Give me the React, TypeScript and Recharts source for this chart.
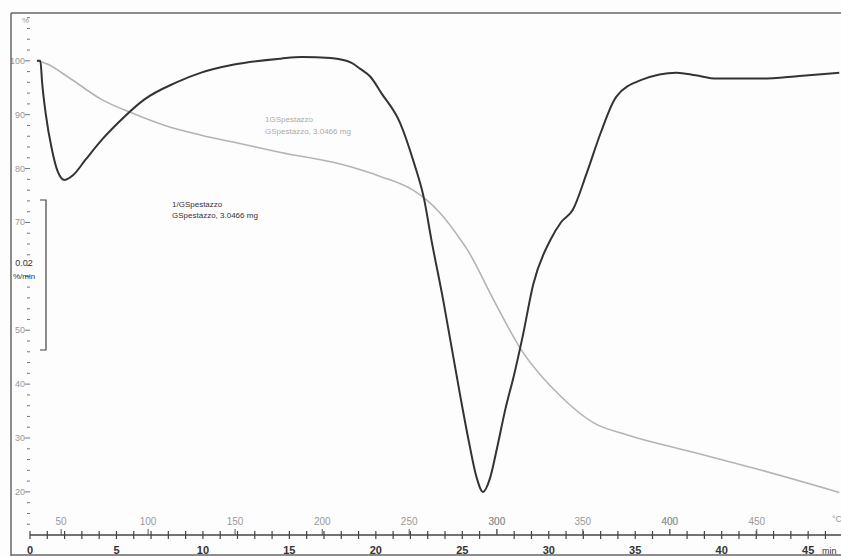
import { LineChart, Line, XAxis, YAxis } from 'recharts';

// TG curve (grey), mass %, vs time in min
const tgTime = [0.4, 1.0, 2.2, 4.15, 5.9, 7.8, 9.9, 12.2, 14.5, 18.0, 20.3, 22.2, 23.0, 23.7, 24.9, 25.3, 26.8, 28.4, 30.7, 32.6, 34.5, 38.3, 42.2, 46.8];
const tgMass = [100, 99.4, 97.0, 92.8, 90.3, 88.0, 86.2, 84.6, 83.0, 80.8, 78.5, 75.9, 74.0, 71.8, 66.8, 64.9, 55.7, 46.4, 37.7, 32.8, 30.6, 27.4, 24.1, 19.9];

// DTG curve (black), read on the same vertical scale
const dtgTime = [0.4, 0.6, 0.7, 0.9, 1.27, 1.6, 2.0, 2.5, 3.2, 4.2, 5.1, 6.6, 8.4, 9.9, 11.8, 14.5, 15.7, 17.4, 18.6, 19.1, 19.7, 20.3, 21.4, 22.2, 22.8, 23.2, 23.9, 24.4, 24.9, 25.4, 25.8, 26.2, 26.6, 27.0, 27.5, 28.0, 28.5, 29.1, 30.1, 30.7, 31.4, 32.2, 33.0, 33.9, 35.4, 37.4, 38.5, 39.7, 42.2, 44.5, 46.8];
const dtgRate = [100, 100, 96.0, 90.4, 83.5, 79.5, 77.9, 78.8, 81.6, 85.5, 88.5, 92.8, 95.9, 97.8, 99.3, 100.4, 100.7, 100.5, 99.6, 98.5, 97.0, 94.1, 88.5, 81.1, 74.2, 67.0, 55.5, 46.5, 37.5, 29.0, 23.0, 20.0, 22.5, 28.0, 35.5, 41.8, 49.0, 58.5, 66.8, 70.0, 72.4, 79.2, 86.6, 93.3, 96.5, 97.8, 97.3, 96.7, 96.7, 97.2, 97.8];

const minuteTicks = Array.from({ length: 47 }, (_, i) => i);
const tempLabels = [50, 100, 150, 200, 250, 300, 350, 400, 450];
const tempTimes = [1.8, 6.83, 11.86, 16.9, 21.93, 27.0, 31.97, 37.0, 42.03];
const yLabels = [20, 30, 40, 50, 70, 80, 90, 100];
const yTicks = Array.from({ length: 48 }, (_, i) => 14 + i * 2);

const tgData = tgTime.map((t, i) => ({ t, mass: tgMass[i] }));
const dtgData = dtgTime.map((t, i) => ({ t, rate: dtgRate[i] }));

const W = 841;
const H = 556;
const AXIS_X = 30;
const font = '"Liberation Sans", Arial, sans-serif';

function XTick(props: any) {
  const { x, y, payload } = props;
  const v = payload.value as number;
  const ti = tempTimes.indexOf(v);
  if (ti >= 0) {
    return (
      <g>
        <line x1={x} x2={x} y1={y - 6} y2={y} stroke="#555" strokeWidth={1} />
        <text x={x} y={y - 10} textAnchor="middle" fontSize={10} fill="#999" fontFamily={font}>
          {tempLabels[ti]}
        </text>
      </g>
    );
  }
  return (
    <g>
      <line x1={x} x2={x} y1={y - 4} y2={y + 4} stroke="#444" strokeWidth={1.2} />
      {v % 5 === 0 && (
        <text x={x} y={y + 19} textAnchor="middle" fontSize={11} fill="#333" fontFamily={font} fontWeight="bold">
          {v}
        </text>
      )}
    </g>
  );
}

function YTick(props: any) {
  const { y, payload } = props;
  const v = payload.value as number;
  const major = v % 10 === 0;
  return (
    <g>
      <line x1={AXIS_X} x2={AXIS_X - (major ? 5 : 3)} y1={y} y2={y} stroke="#777" strokeWidth={1} />
      {yLabels.includes(v) && (
        <text x={AXIS_X - 5} y={y + 3} textAnchor="end" fontSize={9} fill="#999" fontFamily={font}>
          {v}
        </text>
      )}
    </g>
  );
}

export default function App() {
  return (
    <div style={{ position: 'fixed', left: 0, top: 0, width: W, height: H, background: '#fdfdfd', overflow: 'hidden' }}>
      <LineChart width={W} height={H} data={tgData} margin={{ top: 15, right: 0, bottom: 0, left: 0 }}>
        <XAxis
          dataKey="t"
          type="number"
          domain={[0, 46.9]}
          ticks={[...minuteTicks, ...tempTimes]}
          interval={0}
          height={21}
          tickSize={0}
          tickMargin={0}
          tick={<XTick />}
          axisLine={{ stroke: '#444', strokeWidth: 1.5 }}
          allowDataOverflow
        />
        <YAxis
          yAxisId="tg"
          type="number"
          domain={[12, 108.5]}
          ticks={yTicks}
          interval={0}
          width={AXIS_X}
          tickSize={0}
          tickMargin={0}
          tick={<YTick />}
          axisLine={{ stroke: '#666', strokeWidth: 1.2 }}
          allowDataOverflow
        />
        <YAxis yAxisId="dtg" type="number" domain={[12, 108.5]} hide allowDataOverflow />
        <Line
          yAxisId="tg"
          data={tgData}
          dataKey="mass"
          type="monotone"
          stroke="#b4b4b4"
          strokeWidth={1.6}
          dot={false}
          isAnimationActive={false}
        />
        <Line
          yAxisId="dtg"
          data={dtgData}
          dataKey="rate"
          type="monotone"
          stroke="#333"
          strokeWidth={2}
          dot={false}
          isAnimationActive={false}
        />
      </LineChart>
      <svg width={W} height={H} style={{ position: 'absolute', left: 0, top: 0, pointerEvents: 'none' }}>
        <line x1={11} x2={W} y1={13} y2={13} stroke="#666" strokeWidth={1.5} />
        <line x1={11} x2={11} y1={13} y2={H} stroke="#666" strokeWidth={1.5} />
        <line x1={11} x2={W} y1={555} y2={555} stroke="#666" strokeWidth={1.5} />
        <text x={22} y={23} fontSize={8} fill="#999" fontFamily={font}>%</text>
        <polyline points="40,200 46,200 46,350 40,350" fill="none" stroke="#444" strokeWidth={1.2} />
        <text x={24} y={266} textAnchor="middle" fontSize={9} fill="#333" fontFamily={font}>0.02</text>
        <text x={24} y={279} textAnchor="middle" fontSize={8} fill="#333" fontFamily={font}>%/min</text>
        <text x={172} y={207} fontSize={8} fill="#333" fontFamily={font}>1/GSpestazzo</text>
        <text x={172} y={218} fontSize={8} fill="#333" fontFamily={font}>GSpestazzo, 3.0466 mg</text>
        <text x={265} y={122} fontSize={8} fill="#aaa" fontFamily={font}>1GSpestazzo</text>
        <text x={265} y={134} fontSize={8} fill="#aaa" fontFamily={font}>GSpestazzo, 3.0466 mg</text>
        <text x={832} y={522} fontSize={9} fill="#999" fontFamily={font}>°C</text>
        <text x={822} y={554} fontSize={9} fill="#333" fontFamily={font}>min</text>
      </svg>
    </div>
  );
}
